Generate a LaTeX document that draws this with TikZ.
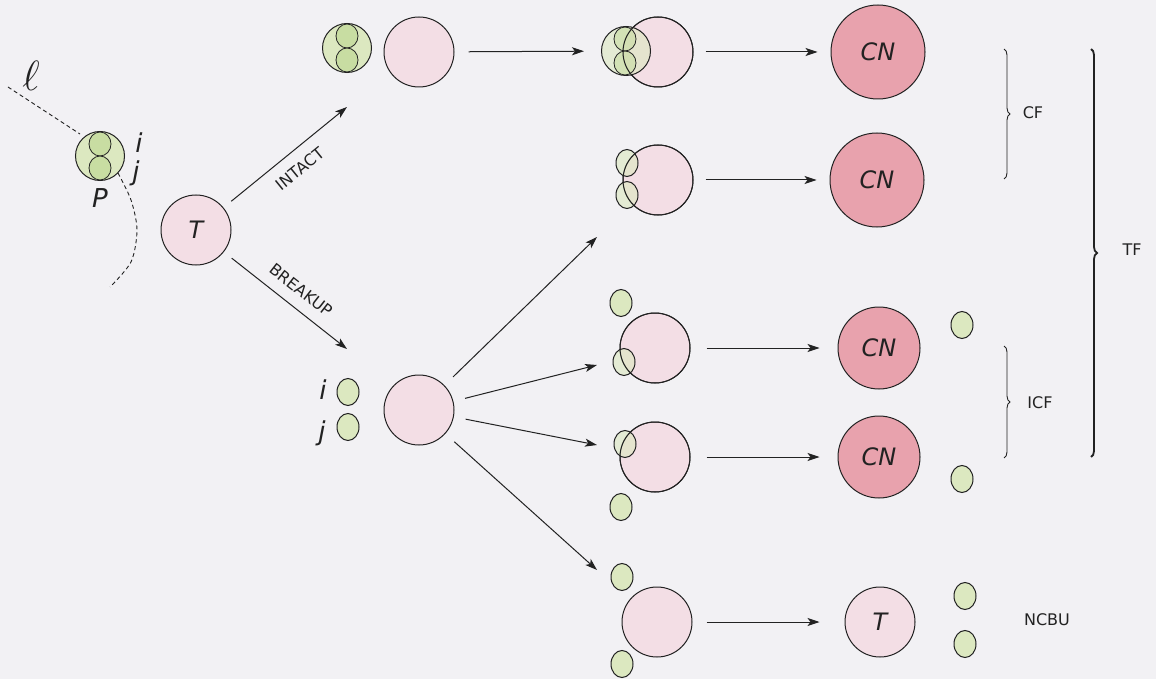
\documentclass[tikz,border=0pt]{standalone}
\usepackage{fontspec}
\setmainfont{DejaVu Sans}
\usetikzlibrary{arrows.meta,shapes.geometric,decorations.pathreplacing}
\definecolor{bgc}{HTML}{F2F1F4}
\definecolor{pinkL}{HTML}{F3DEE5}
\definecolor{cnC}{HTML}{E8A2AD}
\definecolor{grL}{HTML}{DCE8C0}
\definecolor{grD}{HTML}{C8DDA2}
\definecolor{ink}{HTML}{222222}
\newcommand\myitfont{\fontsize{24}{26}\selectfont\itshape}
\newcommand\mylblfont{\fontsize{16}{18}\selectfont}
\begin{document}
\begin{tikzpicture}[x=1pt,y=-1pt,
  every node/.style={text=ink},
  pk/.style={circle,draw=ink,line width=1pt,fill=pinkL,inner sep=0pt,minimum size=70pt,font=\myitfont},
  pko/.style={circle,draw=ink,line width=1pt,fill=none,inner sep=0pt,minimum size=70pt},
  cnc/.style={circle,draw=ink,line width=1pt,fill=cnC,inner sep=0pt,minimum size=#1,font=\myitfont},
  grc/.style={circle,draw=ink,line width=1pt,fill=grL,inner sep=0pt,minimum size=49pt},
  gre/.style={ellipse,draw=ink,line width=0.8pt,fill=grD,inner sep=0pt,minimum width=22pt,minimum height=24pt},
  sg/.style={ellipse,draw=ink,line width=1pt,fill=grL,inner sep=0pt,minimum width=22pt,minimum height=27pt},
  arr/.style={draw=ink,line width=1pt,-{Stealth[length=12pt,width=8pt,inset=3pt]}},
  lbl/.style={font=\mylblfont,inner sep=0pt},
  itl/.style={font=\fontsize{26}{28}\selectfont\itshape,inner sep=0pt},
  brc/.style={draw=ink,decorate,decoration={brace,amplitude=6pt}},
  traj/.style={draw=ink,line width=0.9pt,dash pattern=on 4pt off 3pt}
]
\useasboundingbox (0,0) rectangle (1156,679);
\fill[bgc] (0,0) rectangle (1156,679);

% projectile
\node[grc] (pc) at (100,156) {};
\node[gre] (pe1) at (100,144) {};
\node[gre] (pe2) at (100,168) {};
\node[itl] (plab) at (100,198) {P};
\node[itl] (pil) at (139,143) {i};
\node[itl] (pjl) at (136,173) {j};
\node[inner sep=0pt,scale=1.7,font=\fontsize{24}{26}\selectfont] (ell) at (31,76) {$\ell$};
\coordinate (lt) at (8,87);
\coordinate (lp) at (80,134);
\draw[traj] (lt) -- (lp);
\draw[traj] plot[smooth] coordinates {(118,173) (131,200) (137,230) (131,262) (110,287)};

% target
\node[pk] (t0) at (196,230) {T};
\coordinate (ia) at (347,107);
\coordinate (ba) at (347,349);
\draw[arr,shorten <=10pt] (t0) -- (ia);
\draw[arr,shorten <=10pt] (t0) -- (ba);
\node[lbl,rotate=39] (intact) at (300,169) {INTACT};
\node[lbl,rotate=-38] (breakup) at (301,290) {BREAKUP};

% row 1 (intact)
\node[grc] (r1g) at (347,48) {};
\node[gre] (r1ga) at (347,36) {};
\node[gre] (r1gb) at (347,60) {};
\node[pk] (r1p) at (419,52) {};
\node[pk] (r1fp) at (658,52) {};
\node[grc,fill opacity=0.6] (r1fg) at (626,51) {};
\node[gre,fill opacity=0.6] (r1fga) at (625,39) {};
\node[gre,fill opacity=0.6] (r1fgb) at (625,63) {};
\node[pko] (r1fpo) at (658,52) {};
\node[cnc=94pt] (cn1) at (878,52) {CN};
\draw[arr,shorten <=14pt,shorten >=17pt] (r1p) -- (r1fg);
\draw[arr,shorten <=12pt,shorten >=13pt] (r1fp) -- (cn1);

% row 2
\node[pk] (r2p) at (658,180) {};
\node[sg,fill opacity=0.6] (r2a) at (627,163) {};
\node[sg,fill opacity=0.6] (r2b) at (627,195) {};
\node[pko] (r2po) at (658,180) {};
\node[cnc=94pt] (cn2) at (877,180) {CN};
\draw[arr,shorten <=12pt,shorten >=13pt] (r2p) -- (cn2);

% breakup
\node[sg] (bi) at (348,392) {};
\node[sg] (bj) at (348,427) {};
\node[itl] (bil) at (323,390) {i};
\node[itl] (bjl) at (322,433) {j};
\node[pk] (bp) at (419,410) {};
\coordinate (e1) at (597,237);
\coordinate (e2) at (597,365);
\coordinate (e3) at (597,445);
\coordinate (e4) at (597,570);
\draw[arr,shorten <=12pt] (bp) -- (e1);
\draw[arr,shorten <=12pt] (bp) -- (e2);
\draw[arr,shorten <=12pt] (bp) -- (e3);
\draw[arr,shorten <=12pt] (bp) -- (e4);

% row 3
\node[sg] (r3a) at (621,303) {};
\node[pk] (r3p) at (655,348) {};
\node[sg,fill opacity=0.6] (r3b) at (624,362) {};
\node[pko] (r3po) at (655,348) {};
\node[cnc=82pt] (cn3) at (879,348) {CN};
\node[sg] (r3c) at (962,325) {};
\draw[arr,shorten <=16pt,shorten >=18pt] (r3p) -- (cn3);

% row 4
\node[pk] (r4p) at (655,457) {};
\node[sg,fill opacity=0.6] (r4a) at (625,444) {};
\node[pko] (r4po) at (655,457) {};
\node[sg] (r4b) at (621,507) {};
\node[cnc=82pt] (cn4) at (879,457) {CN};
\node[sg] (r4c) at (962,479) {};
\draw[arr,shorten <=16pt,shorten >=18pt] (r4p) -- (cn4);

% row 5
\node[sg] (r5a) at (622,577) {};
\node[pk] (r5p) at (657,622) {};
\node[sg] (r5b) at (622,664) {};
\node[pk] (t5) at (880,622) {T};
\node[sg] (r5c) at (965,596) {};
\node[sg] (r5d) at (965,644) {};
\draw[arr,shorten <=14pt,shorten >=25pt] (r5p) -- (t5);

% braces and labels
\coordinate (cft) at (1004,49);
\coordinate (cfb) at (1004,179);
\coordinate (ict) at (1004,346);
\coordinate (icb) at (1004,458);
\coordinate (tft) at (1091,49);
\coordinate (tfb) at (1091,457);
\draw[brc,line width=0.9pt] (cft) -- (cfb);
\draw[brc,line width=0.9pt] (ict) -- (icb);
\draw[brc,line width=1.8pt] (tft) -- (tfb);
\node[lbl] (cf) at (1033,113) {CF};
\node[lbl] (icf) at (1040,403) {ICF};
\node[lbl] (tf) at (1132,250) {TF};
\node[lbl] (ncbu) at (1047,620) {NCBU};
\end{tikzpicture}
\end{document}
